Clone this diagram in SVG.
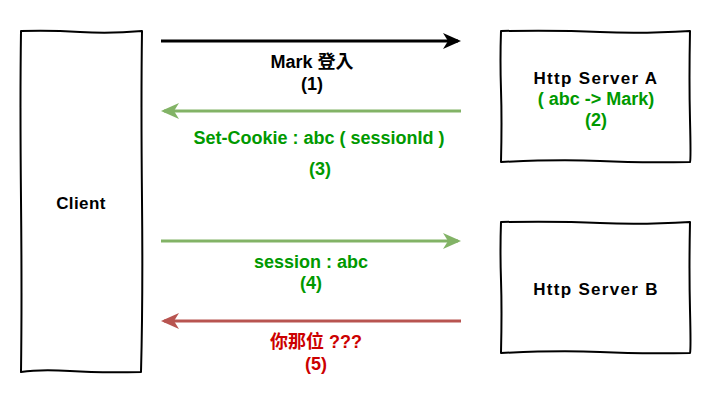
<svg xmlns="http://www.w3.org/2000/svg" width="712" height="402" viewBox="0 0 712 402">
<style>
.box{fill:#fff;stroke:#000;stroke-width:2;stroke-linejoin:round}
.nt{font-family:"Liberation Sans","Noto Sans CJK TC",sans-serif;font-size:17px;font-weight:bold;text-anchor:middle;letter-spacing:1.3px}
.lb{font-family:"Liberation Sans","Noto Sans CJK TC",sans-serif;font-size:18px;font-weight:bold;text-anchor:middle}
.g{fill:#009900}.r{fill:#CC0000}.k{fill:#000}
</style>
<defs>
<marker id="mk" viewBox="0 0 18 16" refX="15" refY="8" markerWidth="18" markerHeight="16" orient="auto" markerUnits="userSpaceOnUse"><path d="M0,0 L18,8 L0,16 L5,8 Z" fill="#000"/></marker>
<marker id="mg" viewBox="0 0 18 16" refX="15" refY="8" markerWidth="18" markerHeight="16" orient="auto" markerUnits="userSpaceOnUse"><path d="M0,0 L18,8 L0,16 L5,8 Z" fill="#82b366"/></marker>
<marker id="mr" viewBox="0 0 18 16" refX="15" refY="8" markerWidth="18" markerHeight="16" orient="auto" markerUnits="userSpaceOnUse"><path d="M0,0 L18,8 L0,16 L5,8 Z" fill="#b85450"/></marker>
</defs>
<rect width="712" height="402" fill="#fff"/>
<g id="client">
<path class="box" d="M21,31 Q50,30 80,32 T142,31 Q141,100 142,200 T141,372 Q100,373 70,371 T21,372 Q22,300 21,200 T21,31 Z"/>
<text class="nt k" x="81" y="209" style="letter-spacing:0.4px">Client</text>
</g>
<g id="serverA">
<path class="box" d="M501,31 Q560,30 600,32 T690,31 Q689,80 690,120 T690,162 Q640,163 600,161 T501,162 Q502,120 501,90 T501,31 Z"/>
<text class="nt k" x="596" y="84">Http Server A</text>
<text class="lb g" x="596" y="105">(  abc -&gt; Mark)</text>
<text class="lb g" x="596" y="126">(2)</text>
</g>
<g id="serverB">
<path class="box" d="M501,222 Q560,221 600,223 T690,222 Q689,270 690,310 T690,353 Q640,354 600,352 T501,353 Q502,310 501,280 T501,222 Z"/>
<text class="nt k" x="596" y="295">Http Server B</text>
</g>
<g id="connectors">
<line x1="161" y1="41" x2="458" y2="41" stroke="#000" stroke-width="3" marker-end="url(#mk)"/>
<line x1="461" y1="111" x2="164" y2="111" stroke="#82b366" stroke-width="3" marker-end="url(#mg)"/>
<line x1="161" y1="241" x2="458" y2="241" stroke="#82b366" stroke-width="3" marker-end="url(#mg)"/>
<line x1="461" y1="321" x2="164" y2="321" stroke="#b85450" stroke-width="3" marker-end="url(#mr)"/>
<text class="lb k" x="312" y="68">Mark 登入</text>
<text class="lb k" x="312" y="90">(1)</text>
<text class="lb g" x="319" y="144">Set-Cookie : abc ( sessionId )</text>
<text class="lb g" x="320" y="175">(3)</text>
<text class="lb g" x="311" y="268">session : abc</text>
<text class="lb g" x="311" y="289">(4)</text>
<text class="lb r" x="316" y="348">你那位 ???</text>
<text class="lb r" x="316" y="370">(5)</text>
</g>
</svg>
